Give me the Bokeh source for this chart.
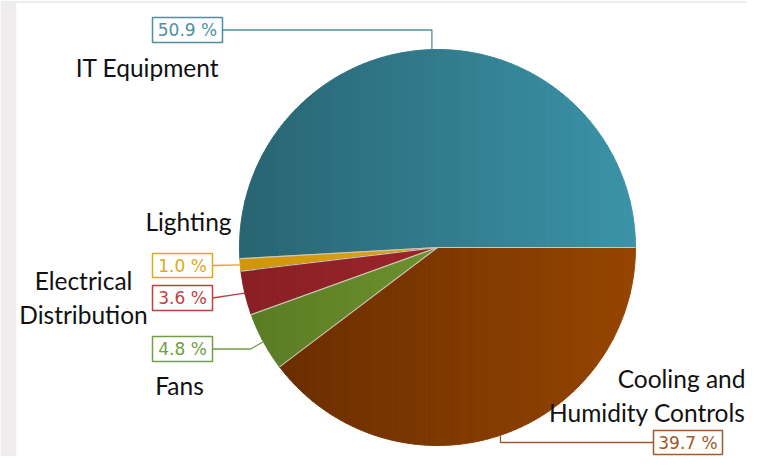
import numpy as np
from bokeh.plotting import figure
from bokeh.models import Range1d
from bokeh.embed import file_html
from bokeh.resources import INLINE
from bokeh.core.properties import value

# ---- data ----
categories = ["IT Equipment", "Lighting", "Electrical Distribution", "Fans",
              "Cooling and Humidity Controls"]
name_labels = ["IT Equipment", "Lighting", "Electrical\nDistribution", "Fans",
               "Cooling and\nHumidity Controls"]
shares = [50.9, 1.0, 3.6, 4.8, 39.7]
pct_labels = ["50.9 %", "1.0 %", "3.6 %", "4.8 %", "39.7 %"]

# ---- styles ----
dark_colors = ["#286472", "#cf9607", "#881f24", "#597a24", "#662b00"]
light_colors = ["#3b93a8", "#e9b222", "#b02b31", "#80a936", "#954500"]
label_colors = ["#4b91a2", "#e0a820", "#c0403f", "#6fa043", "#a0592a"]

CX, CY, R = 437.0, 247.0, 198.0

# label layout (pixel coordinates)
box_left = [152, 152, 152, 152, 653]
box_right = [222, 212, 212, 212, 722]
box_top = [17, 253, 285, 336, 430]
box_bottom = [42, 277, 310, 361, 454]
name_x = [147, 188, 83, 179, 745]
name_y = [67, 221, 297, 385, 395]
name_align = ["center", "center", "center", "center", "right"]


def hexrgb(h):
    h = h.lstrip("#")
    return np.array([int(h[i:i + 2], 16) for i in (0, 2, 4)], dtype=float)


def lerp(c0, c1, t):
    a, b = hexrgb(c0), hexrgb(c1)
    c = a + (b - a) * t
    return "#%02x%02x%02x" % tuple(int(round(v)) for v in c)


def clip(poly, xv, keep_ge):
    out = []
    n = len(poly)
    for i in range(n):
        cur = poly[i]
        prv = poly[i - 1]
        cin = cur[0] >= xv if keep_ge else cur[0] <= xv
        pin = prv[0] >= xv if keep_ge else prv[0] <= xv
        if cin:
            if not pin:
                t = (xv - prv[0]) / (cur[0] - prv[0])
                out.append((xv, prv[1] + t * (cur[1] - prv[1])))
            out.append(cur)
        elif pin:
            t = (xv - prv[0]) / (cur[0] - prv[0])
            out.append((xv, prv[1] + t * (cur[1] - prv[1])))
    return out


fracs = np.array(shares) / sum(shares)
ends = np.cumsum(fracs) * 2 * np.pi
starts = ends - fracs * 2 * np.pi
mids = (starts + ends) / 2

p = figure(width=746, height=456, output_backend="svg", toolbar_location=None,
           x_range=Range1d(16, 746), y_range=Range1d(456, 3),
           x_axis_type=None, y_axis_type=None,
           min_border_left=16, min_border_right=0, min_border_top=3, min_border_bottom=0)
p.border_fill_color = "#efeded"
p.background_fill_color = "white"
p.outline_line_color = None
p.grid.visible = False

# gradient-filled slices built as vertical strips
NS = 70
edges = np.linspace(CX - R, CX + R, NS + 1)
xs, ys, cols = [], [], []
for i in range(len(shares)):
    n = max(int(np.degrees(ends[i] - starts[i]) * 2), 4)
    t = np.linspace(starts[i], ends[i], n)
    poly = [(CX, CY)] + [(CX + R * np.cos(a), CY - R * np.sin(a)) for a in t]
    for k in range(NS):
        a, b = edges[k], edges[k + 1]
        pc = clip(poly, a, True)
        if len(pc) < 3:
            continue
        pc = clip(pc, b, False)
        if len(pc) < 3:
            continue
        xs.append([q[0] for q in pc])
        ys.append([q[1] for q in pc])
        cols.append(lerp(dark_colors[i], light_colors[i], ((a + b) / 2 - (CX - R)) / (2 * R)))

p.patches(xs, ys, fill_color=cols, line_color=cols, line_width=1.0)

# slice separators
p.segment(x0=[CX] * len(starts), y0=[CY] * len(starts),
          x1=list(CX + R * np.cos(starts)), y1=list(CY - R * np.sin(starts)),
          line_color="#cdc9bb", line_width=1.2)

# leader lines
mx = CX + R * np.cos(mids)
my = CY - R * np.sin(mids)
box_cy = [(t + b) / 2 for t, b in zip(box_top, box_bottom)]
lx = [
    [box_right[0], mx[0], mx[0]],
    [box_right[1], mx[1]],
    [box_right[2], mx[2]],
    [box_right[3], 250, mx[3]],
    [box_left[4], mx[4], mx[4]],
]
ly = [
    [box_cy[0], box_cy[0], my[0]],
    [box_cy[1], my[1]],
    [box_cy[2], my[2]],
    [box_cy[3], box_cy[3], my[3]],
    [box_cy[4], box_cy[4], my[4]],
]
p.multi_line(lx, ly, line_color=label_colors, line_width=1.3)

# percentage boxes
p.quad(left=box_left, right=box_right, top=box_top, bottom=box_bottom,
       fill_color="white", line_color=label_colors, line_width=1.5)
p.text(x=[(l + r) / 2 for l, r in zip(box_left, box_right)], y=box_cy, text=pct_labels,
       text_color=label_colors, text_font=value("DejaVu Sans"), text_font_size="17px",
       text_align="center", text_baseline="middle")

# category names
for al in ("center", "right"):
    idx = [i for i in range(len(categories)) if name_align[i] == al]
    p.text(x=[name_x[i] for i in idx], y=[name_y[i] for i in idx],
           text=[name_labels[i] for i in idx], text_color="#111111",
           text_font=value("Lato"), text_font_size="24.5px", text_align=al,
           text_baseline="middle", text_line_height=1.15)

open("out.html", "w").write(file_html(p, INLINE))
